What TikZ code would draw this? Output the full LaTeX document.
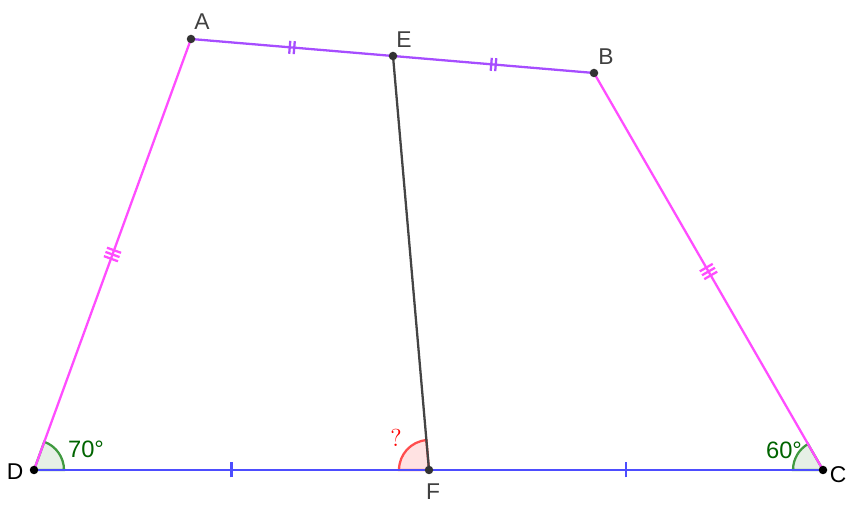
\documentclass[tikz,border=0pt]{standalone}
\usepackage{fontspec}
\setmainfont{Liberation Sans}
\usetikzlibrary{decorations.markings}

\definecolor{sidemag}{HTML}{FF4DFF}
\definecolor{toppurple}{HTML}{A64DFF}
\definecolor{baseblue}{HTML}{4D4DFF}
\definecolor{midgray}{HTML}{444444}
\definecolor{angstroke}{HTML}{409A40}
\definecolor{angfill}{HTML}{E6F0E6}
\definecolor{angtext}{HTML}{006400}
\definecolor{qstroke}{HTML}{FF4D4D}
\definecolor{qfill}{HTML}{FFE2E2}

\tikzset{
  seg/.style={line width=1.3pt},
  onetick/.style={postaction={decorate,decoration={markings,
      mark=at position 0.5 with {\draw[line width=1.3pt] (0,-0.15cm) -- (0,0.15cm);}}}},
  twotick/.style={postaction={decorate,decoration={markings,
      mark=at position 0.5 with {\draw[line width=1.3pt] (-0.045cm,-0.13cm) -- (-0.045cm,0.13cm)
        (0.045cm,-0.13cm) -- (0.045cm,0.13cm);}}}},
  threetick/.style={postaction={decorate,decoration={markings,
      mark=at position 0.5 with {\draw[line width=1.3pt] (-0.09cm,-0.15cm) -- (-0.09cm,0.15cm)
        (0,-0.15cm) -- (0,0.15cm) (0.09cm,-0.15cm) -- (0.09cm,0.15cm);}}}},
  dot/.style={circle,fill=#1,inner sep=0pt,minimum size=0.17cm},
  ptlabel/.style={font=\fontsize{13}{15}\selectfont,text=black!75,inner sep=0pt},
  angsector/.style={fill=angfill,draw=angstroke,line width=1.3pt},
  qsector/.style={fill=qfill,draw=qstroke,line width=1.3pt}
}

\begin{document}
\begin{tikzpicture}[x=0.02cm,y=0.02cm]
  \useasboundingbox (0,0) rectangle (855,509);

  \coordinate (A) at (191,470);
  \coordinate (E) at (393,453);
  \coordinate (B) at (594,436);
  \coordinate (D) at (34,39);
  \coordinate (F) at (429,39);
  \coordinate (C) at (823,39);

  % angle marks
  \draw[angsector] (D) -- ++(0:30) arc[start angle=0,end angle=70,radius=30] -- cycle;
  \draw[angsector] (C) -- ++(180:30) arc[start angle=180,end angle=120,radius=30] -- cycle;
  \draw[qsector] (F) -- ++(95:30) arc[start angle=95,end angle=180,radius=30] -- cycle;

  % sides
  \draw[seg,baseblue,onetick] (D) -- (F);
  \draw[seg,baseblue,onetick] (F) -- (C);
  \draw[seg,toppurple,twotick] (A) -- (E);
  \draw[seg,toppurple,twotick] (E) -- (B);
  \draw[seg,sidemag,threetick] (D) -- (A);
  \draw[seg,sidemag,threetick] (C) -- (B);
  \draw[seg,midgray] (E) -- (F);

  % points
  \node[dot=black!80] (pA) at (A) {};
  \node[dot=black!80] (pE) at (E) {};
  \node[dot=black!80] (pB) at (B) {};
  \node[dot=black] (pD) at (D) {};
  \node[dot=black!80] (pF) at (F) {};
  \node[dot=black] (pC) at (C) {};

  \node[ptlabel] (lA) at (202,487) {A};
  \node[ptlabel] (lE) at (404,469) {E};
  \node[ptlabel] (lB) at (606,452) {B};
  \node[ptlabel,text=black] (lD) at (15,37) {D};
  \node[ptlabel] (lF) at (433,17) {F};
  \node[ptlabel,text=black] (lC) at (838,34) {C};

  \node[font=\fontsize{13.5}{15}\selectfont,text=angtext,inner sep=0pt] (a70) at (86,60) {70°};
  \node[font=\fontsize{13.5}{15}\selectfont,text=angtext,inner sep=0pt] (a60) at (784,59) {60°};
  \node[font=\fontfamily{lmr}\fontsize{14}{15}\selectfont,text=red,inner sep=0pt] (aq) at (396,71) {?};
\end{tikzpicture}
\end{document}
